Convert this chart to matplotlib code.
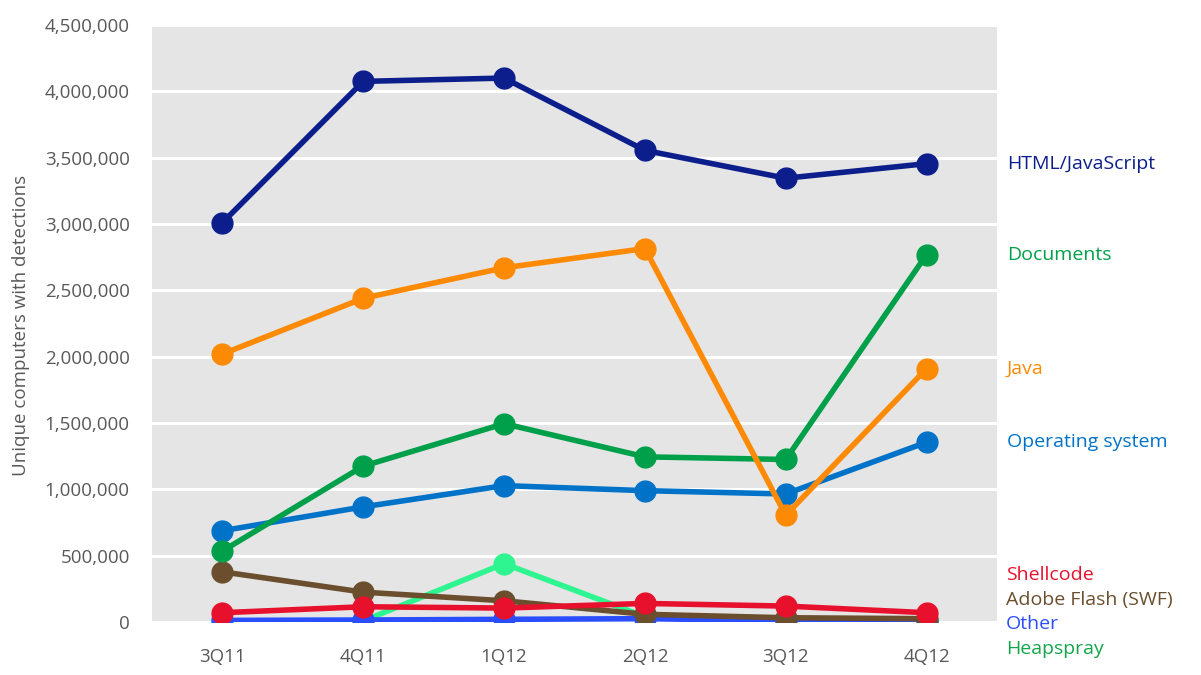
import matplotlib.pyplot as plt
import matplotlib.ticker as mticker

# ── Data ───────────────────────────────────────────────────
quarters = ["3Q11", "4Q11", "1Q12", "2Q12", "3Q12", "4Q12"]

html_js   = [3010000, 4075000, 4100000, 3555000, 3345000, 3455000]
java      = [2020000, 2440000, 2670000, 2815000, 805000, 1910000]
documents = [535000, 1175000, 1495000, 1245000, 1225000, 2770000]
op_system = [688000, 868000, 1028000, 990000, 965000, 1355000]
shellcode = [70000, 115000, 105000, 140000, 120000, 70000]
flash     = [378000, 225000, 160000, 58000, 32000, 25000]
other     = [12000, 15000, 20000, 25000, 10000, 10000]
heapspray = [5000, 8000, 440000, 40000, 5000, 5000]

# drawn bottom to top
series = [
    ("Heapspray", heapspray, "#2ef58f", "#12a64b"),
    ("Other", other, "#2a4dff", "#2a4dff"),
    ("Adobe Flash (SWF)", flash, "#6a4e2e", "#6a4e2e"),
    ("Shellcode", shellcode, "#e8112d", "#e8112d"),
    ("Operating system", op_system, "#0073c8", "#0073c8"),
    ("Documents", documents, "#00a04a", "#00a04a"),
    ("Java", java, "#fd8a04", "#fd8a04"),
    ("HTML/JavaScript", html_js, "#0c1e8c", "#0c1e8c"),
]

plt.rcParams["font.family"] = ["Open Sans", "DejaVu Sans"]

fig = plt.figure(figsize=(12.01, 6.75), dpi=100)
ax = fig.add_axes([152 / 1201, 53 / 675, 845 / 1201, 597 / 675])
ax.set_facecolor("#e5e5e5")

x = list(range(len(quarters)))
for i, (name, vals, col, lcol) in enumerate(series):
    ax.plot(x, vals, color=col, lw=4, marker="o", ms=15, zorder=3 + i,
            solid_capstyle="round")

ax.set_xlim(-0.5, len(quarters) - 0.5)
ax.set_ylim(0, 4500000)
ax.set_xticks(x)
ax.set_xticklabels(quarters)
ax.set_yticks(range(0, 4500001, 500000))
ax.yaxis.set_major_formatter(mticker.StrMethodFormatter("{x:,.0f}"))
ax.tick_params(length=0, labelsize=13.5, colors="#595959")
ax.tick_params(axis="x", pad=19)
ax.tick_params(axis="y", pad=16)
ax.grid(axis="y", color="white", lw=2.2)
ax.set_axisbelow(True)
for s in ax.spines.values():
    s.set_visible(False)

fig.text(21 / 1201, 1 - 325 / 675, "Unique computers with detections",
         rotation=90, ha="center", va="center", fontsize=13.5,
         color="#595959")

# ── Series labels on the right ─────────────────────────────
top_labels = ["HTML/JavaScript", "Documents", "Java", "Operating system"]
for name, vals, col, lcol in series:
    if name in top_labels:
        ax.annotate(name, xy=(5.5, vals[-1]), xytext=(7, 0),
                    textcoords="offset points", va="center", ha="left",
                    fontsize=14, color=lcol, annotation_clip=False)

bottom_labels = ["Shellcode", "Adobe Flash (SWF)", "Other", "Heapspray"]
colors = {name: lcol for name, vals, col, lcol in series}
for k, name in enumerate(bottom_labels):
    fig.text(1006 / 1201, 1 - (575 + 24.5 * k) / 675, name, va="center",
             ha="left", fontsize=14, color=colors[name])

plt.savefig("out.png", dpi=100)
